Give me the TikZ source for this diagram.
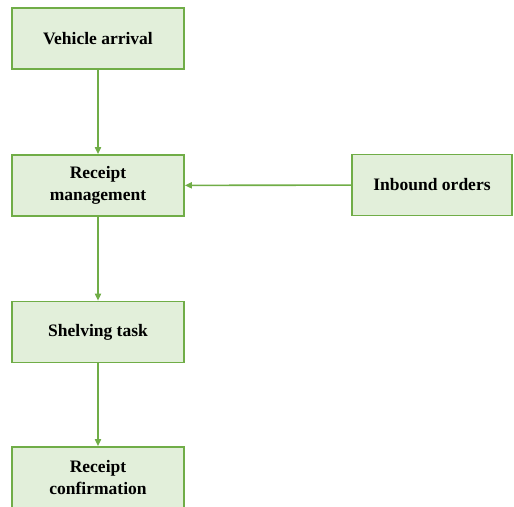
\documentclass[tikz,border=0pt]{standalone}
\usepackage{fontspec}
\setmainfont{Liberation Serif}
\usetikzlibrary{arrows.meta}
\definecolor{boxgreen}{HTML}{E2EFDA}
\definecolor{linegreen}{HTML}{70AD47}
\begin{document}
\begin{tikzpicture}[x=1pt,y=1pt,
	block/.style={draw=linegreen, fill=boxgreen, line width=1.6pt,
		minimum width=172pt, minimum height=61pt, inner sep=0pt,
		align=center, font=\fontsize{17.5}{22}\selectfont\bfseries},
	flow/.style={draw=linegreen, line width=1.6pt, -{Triangle[length=7pt,width=6pt]}}]
	%\draw[help lines] (0,0) grid[step=50] (514,506);
	\useasboundingbox (0,0) rectangle (514,506);
	\clip (0,0) rectangle (514,506);
	\node[block] (arrival) at (98,467.5) {Vehicle arrival};
	\node[block] (receipt) at (98,320.5) {Receipt\\management};
	\node[block, minimum width=160pt] (inbound) at (432,321) {Inbound orders};
	\node[block] (shelving) at (98,174) {Shelving task};
	\node[block] (confirm) at (98,28.5) {Receipt\\confirmation};
	\draw[flow] (arrival) -- (receipt);
	\draw[flow] (inbound) -- (receipt);
	\draw[flow] (receipt) -- (shelving);
	\draw[flow] (shelving) -- (confirm);
\end{tikzpicture}
\end{document}
